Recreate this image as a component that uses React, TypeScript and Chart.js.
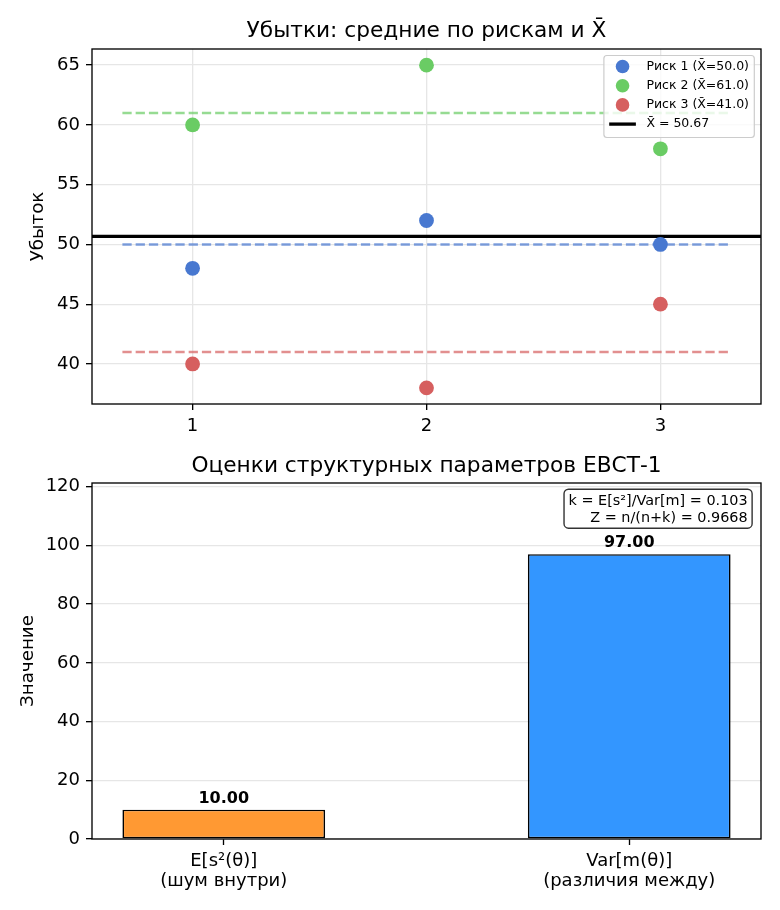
import React, { useEffect, useRef } from "react";
import { Chart, registerables } from "chart.js";

Chart.register(...registerables);

const FONT = "'DejaVu Sans', 'Liberation Sans', sans-serif";

// Losses per period for each risk
const periods = [1, 2, 3];
const riskNames = ["Риск 1", "Риск 2", "Риск 3"];
const risk1Losses = [48, 52, 50];
const risk2Losses = [60, 65, 58];
const risk3Losses = [40, 38, 45];
const riskColors = ["#4878d0", "#6acc64", "#d65f5f"];
const lossTicks = [40, 45, 50, 55, 60, 65];
const meanLineFrom = 0.7;
const meanLineTo = 3.3;

// Structural parameter estimates (EBCT-1)
const paramLabels = [
  ["E[s²(θ)]", "(шум внутри)"],
  ["Var[m(θ)]", "(различия между)"],
];
const paramPositions = [0, 1];
const paramValues = [10.0, 97.0];
const paramColors = ["#ff9933", "#3396ff"];
const valueTicks = [0, 20, 40, 60, 80, 100, 120];
const nPeriods = 3;

const riskLosses = [risk1Losses, risk2Losses, risk3Losses];
const mean = (a: number[]) => a.reduce((s, v) => s + v, 0) / a.length;
const riskMeans = riskLosses.map(mean);
const grandMean = mean(riskMeans);

const kValue = paramValues[0] / paramValues[1];
const zValue = nPeriods / (nPeriods + kValue);

const GRID = "#e6e6e6";
const TICK_FONT = { family: FONT, size: 18 };
const LABEL_FONT = { family: FONT, size: 18.3 };

function rgba(hex: string, a: number) {
  const n = parseInt(hex.slice(1), 16);
  return `rgba(${(n >> 16) & 255},${(n >> 8) & 255},${n & 255},${a})`;
}

function roundRect(ctx: CanvasRenderingContext2D, x: number, y: number, w: number, h: number, r: number) {
  ctx.beginPath();
  ctx.moveTo(x + r, y);
  ctx.lineTo(x + w - r, y);
  ctx.arcTo(x + w, y, x + w, y + r, r);
  ctx.lineTo(x + w, y + h - r);
  ctx.arcTo(x + w, y + h, x + w - r, y + h, r);
  ctx.lineTo(x + r, y + h);
  ctx.arcTo(x, y + h, x, y + h - r, r);
  ctx.lineTo(x, y + r);
  ctx.arcTo(x, y, x + r, y, r);
  ctx.closePath();
}

function drawFrameAndTitle(chart: any, title: string, titleY: number) {
  const { ctx, chartArea: a } = chart;
  ctx.save();
  ctx.strokeStyle = "#000";
  ctx.lineWidth = 1.33;
  ctx.strokeRect(a.left, a.top, a.right - a.left, a.bottom - a.top);
  ctx.fillStyle = "#000";
  ctx.font = `21.7px ${FONT}`;
  ctx.textAlign = "center";
  ctx.textBaseline = "middle";
  ctx.fillText(title, (a.left + a.right) / 2, titleY);
  ctx.restore();
}

const lossPlugin = {
  id: "lossDecor",
  afterDraw(chart: any) {
    drawFrameAndTitle(chart, "Убытки: средние по рискам и X̄", 31);
    const { ctx, chartArea: a } = chart;
    const fs = 12.5;
    ctx.save();
    ctx.font = `${fs}px ${FONT}`;
    const labels = riskNames.map((n, i) => `${n} (X̄=${riskMeans[i].toFixed(1)})`);
    labels.push(`X̄ = ${grandMean.toFixed(2)}`);
    const textW = Math.max(...labels.map((t) => ctx.measureText(t).width));
    const pad = 5.3;
    const handleLen = 26.7;
    const handlePad = 10.5;
    const rowH = 19.2;
    const boxW = pad + handleLen + handlePad + textW + pad;
    const boxH = 82;
    const right = a.right - 6.7;
    const top = a.top + 6.5;
    const left = right - boxW;
    roundRect(ctx, left, top, boxW, boxH, 3);
    ctx.fillStyle = "rgba(255,255,255,0.8)";
    ctx.fill();
    ctx.strokeStyle = "#cccccc";
    ctx.lineWidth = 1.2;
    ctx.stroke();
    ctx.textBaseline = "middle";
    ctx.textAlign = "left";
    labels.forEach((t, i) => {
      const cy = top + 11 + i * rowH;
      const hx = left + pad;
      if (i < riskNames.length) {
        ctx.beginPath();
        ctx.arc(hx + handleLen / 2, cy, 6.8, 0, Math.PI * 2);
        ctx.fillStyle = riskColors[i];
        ctx.fill();
      } else {
        ctx.beginPath();
        ctx.moveTo(hx, cy);
        ctx.lineTo(hx + handleLen, cy);
        ctx.strokeStyle = "#000";
        ctx.lineWidth = 3.3;
        ctx.stroke();
      }
      ctx.fillStyle = "#000";
      ctx.fillText(t, hx + handleLen + handlePad, cy);
    });
    ctx.restore();
  },
};

const paramPlugin = {
  id: "paramDecor",
  afterDatasetsDraw(chart: any) {
    const { ctx } = chart;
    const meta = chart.getDatasetMeta(0);
    ctx.save();
    ctx.font = `bold 16px ${FONT}`;
    ctx.fillStyle = "#000";
    ctx.textAlign = "center";
    ctx.textBaseline = "bottom";
    meta.data.forEach((bar: any, i: number) => {
      ctx.fillText(paramValues[i].toFixed(2), bar.x, bar.y - 3);
    });
    ctx.restore();
  },
  afterDraw(chart: any) {
    drawFrameAndTitle(chart, "Оценки структурных параметров ЕВСТ-1", 21);
    const { ctx, chartArea: a } = chart;
    const fs = 14.4;
    const lines = [
      `k = E[s²]/Var[m] = ${kValue.toFixed(3)}`,
      `Z = n/(n+k) = ${zValue.toFixed(4)}`,
    ];
    ctx.save();
    ctx.font = `${fs}px ${FONT}`;
    const tw = Math.max(...lines.map((t) => ctx.measureText(t).width));
    const rx = a.left + 0.98 * (a.right - a.left);
    const ty = a.top + 0.03 * (a.bottom - a.top);
    const bp = 4.5;
    const blockH = 30;
    roundRect(ctx, rx - tw - bp, ty - bp, tw + 2 * bp, blockH + 2 * bp, 4.5);
    ctx.fillStyle = "rgba(255,255,255,0.8)";
    ctx.fill();
    ctx.strokeStyle = "#333333";
    ctx.lineWidth = 1.4;
    ctx.stroke();
    ctx.fillStyle = "#000";
    ctx.textAlign = "right";
    ctx.textBaseline = "middle";
    lines.forEach((t, i) => ctx.fillText(t, rx, ty + 7.5 + i * 17.5));
    ctx.restore();
  },
};

export default function App() {
  const lossRef = useRef<HTMLCanvasElement>(null);
  const paramRef = useRef<HTMLCanvasElement>(null);

  useEffect(() => {
    const allLosses = riskLosses.flat();
    const lo = Math.min(...allLosses);
    const hi = Math.max(...allLosses);
    const yPad = (hi - lo) * 0.05;
    const xPad = (meanLineTo - meanLineFrom) * 0.05;
    const xMin = meanLineFrom - xPad;
    const xMax = meanLineTo + xPad;

    const scatterSets = riskLosses.map((vals, i) => ({
      label: `${riskNames[i]} (X̄=${riskMeans[i].toFixed(1)})`,
      data: vals.map((v, j) => ({ x: periods[j], y: v })),
      backgroundColor: riskColors[i],
      borderWidth: 0,
      pointRadius: 7.4,
      pointHoverRadius: 7.4,
      showLine: false,
    }));
    const meanSets = riskMeans.map((m, i) => ({
      label: `mean ${i}`,
      data: [
        { x: meanLineFrom, y: m },
        { x: meanLineTo, y: m },
      ],
      borderColor: rgba(riskColors[i], 0.7),
      borderWidth: 2.5,
      borderDash: [9.25, 4],
      pointRadius: 0,
      showLine: true,
    }));
    const grandSet = {
      label: "grand",
      data: [
        { x: xMin, y: grandMean },
        { x: xMax, y: grandMean },
      ],
      borderColor: "#000",
      borderWidth: 3.3,
      pointRadius: 0,
      showLine: true,
    };

    const lossChart = new Chart(lossRef.current!, {
      type: "scatter",
      data: { datasets: [...scatterSets, grandSet, ...meanSets] as any },
      plugins: [lossPlugin],
      options: {
        animation: false,
        responsive: false,
        events: [],
        layout: { padding: { top: 49, right: 19, bottom: 0, left: 0 } },
        plugins: { legend: { display: false }, tooltip: { enabled: false } },
        scales: {
          x: {
            type: "linear",
            min: xMin,
            max: xMax,
            bounds: "data",
            afterBuildTicks: (s: any) => {
              s.ticks = periods.map((v) => ({ value: v }));
            },
            afterFit: (s: any) => {
              s.height = 41;
            },
            ticks: { font: TICK_FONT, color: "#000", padding: 6, callback: (v: any) => String(v) },
            grid: { color: GRID, lineWidth: 1.33, tickColor: "#000", tickLength: 6, tickWidth: 1.33 },
            border: { display: false },
          },
          y: {
            type: "linear",
            min: lo - yPad,
            max: hi + yPad,
            bounds: "data",
            afterBuildTicks: (s: any) => {
              s.ticks = lossTicks.map((v) => ({ value: v }));
            },
            afterFit: (s: any) => {
              s.width = 92;
            },
            title: {
              display: true,
              text: "Убыток",
              color: "#000",
              font: LABEL_FONT,
              padding: { top: 27, bottom: 0 },
            },
            ticks: { font: TICK_FONT, color: "#000", padding: 6, callback: (v: any) => String(v) },
            grid: { color: GRID, lineWidth: 1.33, tickColor: "#000", tickLength: 6, tickWidth: 1.33 },
            border: { display: false },
          },
        },
      } as any,
    });

    const vMax = Math.max(...paramValues) * 1.25;
    const barLo = paramPositions[0] - 0.25;
    const barHi = paramPositions[paramPositions.length - 1] + 0.25;
    const bPad = (barHi - barLo) * 0.05;

    const paramChart = new Chart(paramRef.current!, {
      type: "bar",
      data: {
        datasets: [
          {
            label: "params",
            data: paramValues.map((v, i) => ({ x: paramPositions[i], y: v })),
            backgroundColor: paramColors,
            borderColor: "#000",
            borderWidth: 1.67,
            borderSkipped: false,
            categoryPercentage: 0.5,
            barPercentage: 1,
          },
        ],
      } as any,
      plugins: [paramPlugin],
      options: {
        animation: false,
        responsive: false,
        events: [],
        layout: { padding: { top: 38, right: 19, bottom: 0, left: 0 } },
        plugins: { legend: { display: false }, tooltip: { enabled: false } },
        scales: {
          x: {
            type: "linear",
            min: barLo - bPad,
            max: barHi + bPad,
            bounds: "data",
            offset: false,
            afterBuildTicks: (s: any) => {
              s.ticks = paramPositions.map((v) => ({ value: v }));
            },
            afterFit: (s: any) => {
              s.height = 71;
            },
            ticks: {
              font: { ...TICK_FONT, lineHeight: 1.11 },
              color: "#000",
              padding: 6,
              callback: (v: any) => paramLabels[paramPositions.indexOf(Number(v))] ?? "",
            },
            grid: {
              offset: false,
              drawOnChartArea: false,
              tickColor: "#000",
              tickLength: 6,
              tickWidth: 1.33,
            },
            border: { display: false },
          },
          y: {
            type: "linear",
            min: 0,
            max: vMax,
            bounds: "data",
            afterBuildTicks: (s: any) => {
              s.ticks = valueTicks.map((v) => ({ value: v }));
            },
            afterFit: (s: any) => {
              s.width = 92;
            },
            title: {
              display: true,
              text: "Значение",
              color: "#000",
              font: LABEL_FONT,
              padding: { top: 17, bottom: 0 },
            },
            ticks: { font: TICK_FONT, color: "#000", padding: 6, callback: (v: any) => String(v) },
            grid: { color: GRID, lineWidth: 1.33, tickColor: "#000", tickLength: 6, tickWidth: 1.33 },
            border: { display: false },
          },
        },
      } as any,
    });

    return () => {
      lossChart.destroy();
      paramChart.destroy();
    };
  }, []);

  return (
    <div
      style={{
        position: "absolute",
        left: 0,
        top: 0,
        width: 780,
        height: 910,
        background: "#fff",
      }}
    >
      <canvas ref={lossRef} width={780} height={445} style={{ display: "block", width: 780, height: 445 }} />
      <canvas ref={paramRef} width={780} height={465} style={{ display: "block", width: 780, height: 465 }} />
    </div>
  );
}
